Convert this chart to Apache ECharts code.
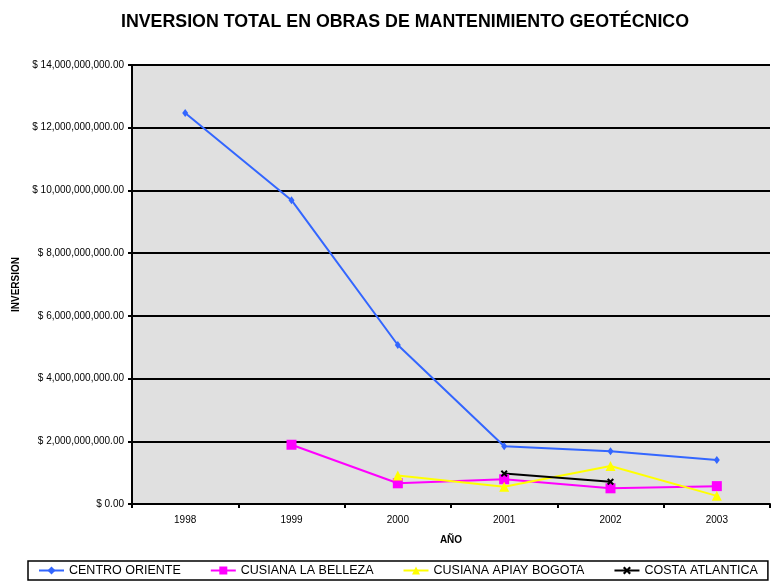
<!DOCTYPE html>
<html>
<head>
<meta charset="utf-8">
<script src="https://cdn.jsdelivr.net/npm/echarts@6/dist/echarts.min.js"></script>
<style>
  html, body { margin: 0; padding: 0; background: #fff; }
  #chart { width: 771px; height: 584px; }
</style>
</head>
<body>
<div id="chart"></div>
<script>
// data, in pesos
var years = ["1998", "1999", "2000", "2001", "2002", "2003"];
var centroOriente = [12470000000, 9690000000, 5070000000, 1840000000, 1680000000, 1400000000];
var cusianaBelleza = [null, 1890000000, 660000000, 790000000, 500000000, 570000000];
var cusianaApiay = [null, null, 910000000, 550000000, 1210000000, 260000000];
var costaAtlantica = [null, null, null, 970000000, 710000000, null];

var xMark = "path://M2,0L5,3L8,0L10,2L7,5L10,8L8,10L5,7L2,10L0,8L3,5L0,2Z";

function money(v) {
  return "$ " + v.toLocaleString("en-US", { minimumFractionDigits: 2, maximumFractionDigits: 2 });
}

var myChart = echarts.init(document.getElementById("chart"));
myChart.setOption({
  animation: false,
  textStyle: { fontFamily: "Liberation Sans, Arial, sans-serif" },
  title: {
    text: "INVERSION TOTAL EN OBRAS DE MANTENIMIENTO GEOTÉCNICO",
    left: 400, top: 8, textAlign: "center",
    textStyle: { fontSize: 17.8, fontWeight: "bold", color: "#000" }
  },
  grid: {
    left: 132, right: 1, top: 65, bottom: 80,
    show: true, backgroundColor: "#E0E0E0", borderWidth: 0
  },
  legend: {
    left: 28, top: 561, width: 742,
    padding: [3, 10],
    itemGap: 29, itemWidth: 25, itemHeight: 10,
    borderColor: "#000", borderWidth: 1.5,
    textStyle: { fontSize: 12.5, color: "#000" }
  },
  xAxis: {
    type: "category", data: years,
    name: "AÑO", nameLocation: "middle", nameGap: 31,
    nameTextStyle: { fontSize: 10, fontWeight: "bold", color: "#000" },
    axisLine: { lineStyle: { color: "#000", width: 2 } },
    axisTick: { show: true, length: 4, lineStyle: { color: "#000", width: 2 } },
    axisLabel: { fontSize: 10, color: "#000", margin: 11 }
  },
  yAxis: {
    type: "value", min: 0, max: 14000000000, interval: 2000000000,
    name: "INVERSION", nameLocation: "middle", nameGap: 111,
    nameTextStyle: { fontSize: 10, fontWeight: "bold", color: "#000" },
    axisLine: { show: true, lineStyle: { color: "#000", width: 2 } },
    axisTick: { show: true, length: 4, lineStyle: { color: "#000", width: 2 } },
    splitLine: { lineStyle: { color: "#000", width: 2 } },
    axisLabel: { fontSize: 10, color: "#000", margin: 8, formatter: money }
  },
  series: [
    {
      name: "CENTRO ORIENTE", type: "line", data: centroOriente,
      symbol: "diamond", symbolSize: [6, 8],
      lineStyle: { color: "#3366FF", width: 2 },
      itemStyle: { color: "#3366FF" }
    },
    {
      name: "CUSIANA LA BELLEZA", type: "line", data: cusianaBelleza,
      symbol: "rect", symbolSize: 10,
      lineStyle: { color: "#FF00FF", width: 2 },
      itemStyle: { color: "#FF00FF" }
    },
    {
      name: "CUSIANA APIAY BOGOTA", type: "line", data: cusianaApiay,
      symbol: "triangle", symbolSize: 10,
      lineStyle: { color: "#FFFF00", width: 2 },
      itemStyle: { color: "#FFFF00" }
    },
    {
      name: "COSTA ATLANTICA", type: "line", data: costaAtlantica,
      symbol: xMark, symbolSize: 7,
      lineStyle: { color: "#000", width: 2 },
      itemStyle: { color: "#000" }
    }
  ]
});
</script>
</body>
</html>
